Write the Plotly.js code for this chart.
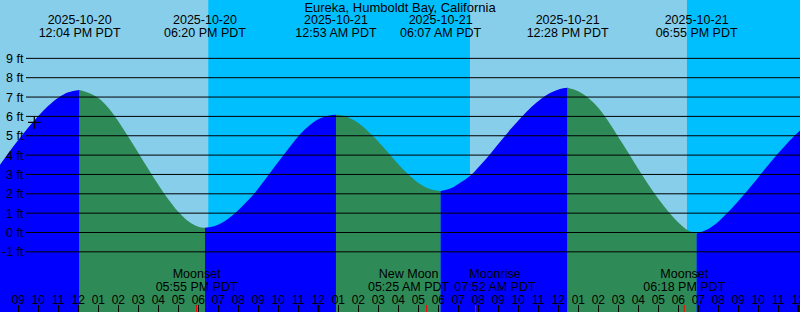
<!DOCTYPE html>
<html><head><meta charset="utf-8">
<script src="https://cdn.plot.ly/plotly-3.0.1.min.js"></script>
<style>html,body{margin:0;padding:0;background:#87CEEB;overflow:hidden}</style>
</head><body><div id="chart" style="width:800px;height:312px"></div>
<script>
const stationName = 'Eureka, Humboldt Bay, California';

// Tide curve readings (PDT, feet)
const tideTimes = [
 '2025-10-20 08:04','2025-10-20 08:30','2025-10-20 09:00','2025-10-20 09:30','2025-10-20 10:00','2025-10-20 10:30','2025-10-20 11:00','2025-10-20 11:30','2025-10-20 12:04',
 '2025-10-20 12:30','2025-10-20 13:00','2025-10-20 13:30','2025-10-20 14:00','2025-10-20 14:30','2025-10-20 15:00','2025-10-20 15:30','2025-10-20 16:00','2025-10-20 16:30','2025-10-20 17:00','2025-10-20 17:30','2025-10-20 18:00','2025-10-20 18:20',
 '2025-10-20 18:50','2025-10-20 19:20','2025-10-20 19:50','2025-10-20 20:20','2025-10-20 20:50','2025-10-20 21:20','2025-10-20 21:50','2025-10-20 22:20','2025-10-20 22:50','2025-10-20 23:20','2025-10-20 23:50','2025-10-21 00:20','2025-10-21 00:53',
 '2025-10-21 01:20','2025-10-21 01:50','2025-10-21 02:20','2025-10-21 02:50','2025-10-21 03:20','2025-10-21 03:50','2025-10-21 04:20','2025-10-21 04:50','2025-10-21 05:20','2025-10-21 05:45','2025-10-21 06:07',
 '2025-10-21 06:40','2025-10-21 07:10','2025-10-21 07:40','2025-10-21 08:10','2025-10-21 08:40','2025-10-21 09:10','2025-10-21 09:40','2025-10-21 10:10','2025-10-21 10:40','2025-10-21 11:10','2025-10-21 11:40','2025-10-21 12:05','2025-10-21 12:28',
 '2025-10-21 13:00','2025-10-21 13:30','2025-10-21 14:00','2025-10-21 14:30','2025-10-21 15:00','2025-10-21 15:30','2025-10-21 16:00','2025-10-21 16:30','2025-10-21 17:00','2025-10-21 17:30','2025-10-21 18:00','2025-10-21 18:30','2025-10-21 18:55',
 '2025-10-21 19:25','2025-10-21 19:55','2025-10-21 20:25','2025-10-21 20:55','2025-10-21 21:25','2025-10-21 21:55','2025-10-21 22:25','2025-10-21 22:55','2025-10-21 23:25','2025-10-21 23:55','2025-10-22 00:06'
];
const tideHeights = [
 3.47,4.10,4.78,5.42,6.02,6.55,6.97,7.25,7.37,
 7.22,6.95,6.45,5.75,4.95,4.12,3.28,2.47,1.72,1.07,0.58,0.30,0.24,
 0.34,0.60,1.00,1.50,2.06,2.72,3.42,4.10,4.77,5.33,5.75,5.99,6.08,
 6.01,5.77,5.38,4.88,4.31,3.72,3.17,2.70,2.35,2.19,2.14,
 2.30,2.62,3.00,3.55,4.15,4.78,5.40,5.97,6.50,6.93,7.25,7.42,7.48,
 7.30,6.95,6.45,5.75,4.93,4.12,3.28,2.48,1.74,1.08,0.52,0.10,-0.05,
 0.14,0.48,0.98,1.53,2.12,2.74,3.38,4.00,4.58,5.10,5.28
];

// High / low tide events
const extremeTimes  = ['2025-10-20 12:04','2025-10-20 18:20','2025-10-21 00:53','2025-10-21 06:07','2025-10-21 12:28','2025-10-21 18:55','2025-10-22 01:38'];
const extremeDates  = ['2025-10-20','2025-10-20','2025-10-21','2025-10-21','2025-10-21','2025-10-21','2025-10-22'];
const extremeLabels = ['12:04 PM PDT','06:20 PM PDT','12:53 AM PDT','06:07 AM PDT','12:28 PM PDT','06:55 PM PDT','01:38 AM PDT'];

// Sun
const sunsetTimes  = ['2025-10-20 18:30','2025-10-21 18:26'];
const sunriseTimes = ['2025-10-21 07:35','2025-10-22 07:36'];

// Moon events (tick marks) and their labels
const moonEventTimes = ['2025-10-20 17:55','2025-10-21 05:25','2025-10-21 07:52','2025-10-21 18:18'];
const moonLabelAnchors = ['2025-10-20 06:52','2025-10-20 17:55','2025-10-21 04:31','2025-10-21 08:50','2025-10-21 18:18'];
const moonLabelNames = ['Moonrise','Moonset','New Moon','Moonrise','Moonset'];
const moonLabelTimes = ['06:52 AM PDT','05:55 PM PDT','05:25 AM PDT','07:52 AM PDT','06:18 PM PDT'];

const midnights = ['2025-10-21 00:00','2025-10-22 00:00'];
const ftTicks = [-1,0,1,2,3,4,5,6,7,8,9];
const nowTime = ['2025-10-20 09:48'];
const nowLevel = [5.69];

const xRange = ['2025-10-20 08:05:06','2025-10-22 00:05:06'];
const yRange = [-4.109, 12.016];

const DAY = '#87CEEB', NIGHT = '#00BFFF', RISE = '#0000FF', FALL = '#2E8B57';
const FONT = 'Liberation Sans, Arial, sans-serif';

const traces = [];
const bounds = [0];
tideTimes.forEach((t,i)=>{ if(i>0 && i<tideTimes.length-1 && extremeTimes.includes(t)) bounds.push(i); });
bounds.push(tideTimes.length-1);
for(let k=0;k<bounds.length-1;k++){
  const a=bounds[k], b=bounds[k+1];
  const xs=tideTimes.slice(a,b+1), ys=tideHeights.slice(a,b+1);
  const rising = ys[ys.length-1] > ys[0];
  traces.push({x:[xs[0],xs[xs.length-1]], y:[yRange[0],yRange[0]], mode:'lines', line:{width:0}, hoverinfo:'skip', showlegend:false});
  traces.push({x:xs, y:ys, mode:'lines', line:{width:0, shape:'spline', smoothing:1}, fill:'tonexty', fillcolor: rising?RISE:FALL, hoverinfo:'skip', showlegend:false});
}

const txt = (x, yPx, text, size) => ({x, y: x.map(()=>yPx), text, mode:'text', xaxis:'x2', yaxis:'y2',
  textposition:'middle center', textfont:{family:FONT, size:size||12.5, color:'#000'}, hoverinfo:'skip', showlegend:false, cliponaxis:false});

traces.push(txt(extremeTimes, 21.0, extremeDates));
traces.push(txt(extremeTimes, 33.4, extremeLabels));
traces.push(txt(moonLabelAnchors, 275.0, moonLabelNames));
traces.push(txt(moonLabelAnchors, 287.4, moonLabelTimes));
traces.push({x:nowTime, y:nowLevel, mode:'markers', marker:{symbol:'cross-thin', size:9, line:{width:1.2, color:'#000'}}, hoverinfo:'skip', showlegend:false});

const shapes = [];
sunsetTimes.forEach((s,i)=>shapes.push({type:'rect', xref:'x', yref:'paper', x0:s, x1:sunriseTimes[i], y0:0, y1:1, fillcolor:NIGHT, line:{width:0}, layer:'below'}));
ftTicks.forEach(v=>shapes.push({type:'line', xref:'paper', yref:'y', x0:26/800, x1:1, y0:v, y1:v, line:{color:'#000', width:1}, layer:'above'}));
midnights.forEach(m=>shapes.push({type:'line', xref:'x', yref:'paper', x0:m, x1:m, y0:0, y1:7/312, line:{color:'#000', width:2}, layer:'above'}));
moonEventTimes.forEach(m=>shapes.push({type:'line', xref:'x', yref:'paper', x0:m, x1:m, y0:0, y1:7/312, line:{color:'#FF0000', width:1}, layer:'above'}));

const annotations = ftTicks.map(v=>({xref:'paper', yref:'y', x:25/800, y:v, xanchor:'right', yanchor:'middle', yshift:-0.5, text:v+' ft', showarrow:false, borderpad:0, font:{family:FONT, size:12.5, color:'#000'}}));

const layout = {
  width:800, height:312, margin:{l:0,r:0,t:0,b:0,pad:0},
  paper_bgcolor:DAY, plot_bgcolor:DAY, showlegend:false, hovermode:false,
  title:{text:stationName, x:0.5, xanchor:'center', y:1-7.5/312, yanchor:'middle', font:{family:FONT, size:13, color:'#000'}},
  xaxis:{type:'date', range:xRange, tick0:'2025-10-20 00:00', dtick:3600000,
    ticks:'inside', ticklen:7, tickwidth:1, tickcolor:'#000', showticklabels:false,
    showgrid:false, zeroline:false, showline:false, fixedrange:true},
  // hour labels: a second view of the same time axis, labels drawn just above the tick marks
  xaxis2:{type:'date', range:xRange, overlaying:'x', anchor:'free', position:6/312, side:'top',
    tick0:'2025-10-20 00:00', dtick:3600000, tickformat:'%I', ticks:'', ticklabelstandoff:0, ticklabeloverflow:'allow',
    tickfont:{family:FONT, size:12, color:'#000'}, showgrid:false, zeroline:false, showline:false, fixedrange:true},
  yaxis:{range:yRange, showgrid:false, zeroline:false, showticklabels:false, ticks:'', fixedrange:true},
  yaxis2:{range:[312,0], overlaying:'y', visible:false, fixedrange:true},
  shapes, annotations
};
Plotly.newPlot('chart', traces, layout, {staticPlot:true, displayModeBar:false});
</script></body></html>
